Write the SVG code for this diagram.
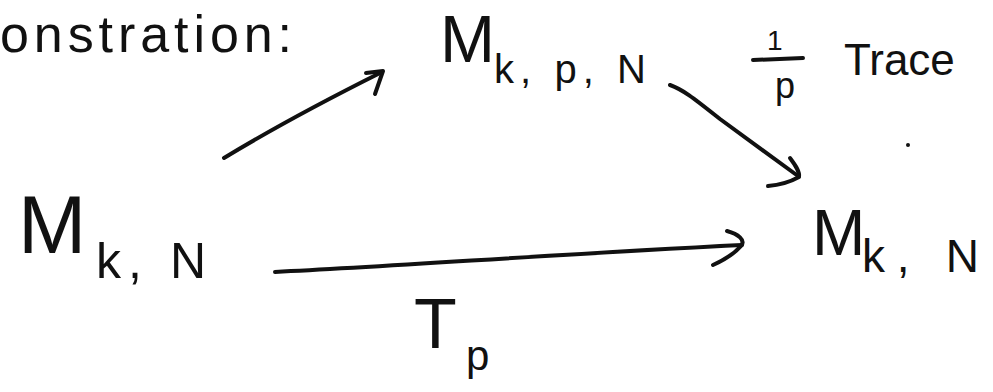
<svg xmlns="http://www.w3.org/2000/svg" width="993" height="392" viewBox="0 0 993 392">
<style>
  .t { font-family: "Liberation Sans", "DejaVu Sans", sans-serif; fill: #111; }
  .c { fill: none; stroke: #111; stroke-width: 4; stroke-linecap: round; stroke-linejoin: round; }
</style>
<rect width="993" height="392" fill="#ffffff"/>
<g id="title">
  <text class="t" x="0" y="52" font-size="52" textLength="292" lengthAdjust="spacing">onstration:</text>
</g>
<g id="node-top">
  <text class="t" x="440" y="62" font-size="66">M</text>
  <text class="t" x="494" y="83" font-size="40" textLength="152" lengthAdjust="spacing">k, p, N</text>
</g>
<g id="node-left">
  <text class="t" x="18" y="253" font-size="82">M</text>
  <text class="t" x="96" y="278" font-size="50" textLength="110" lengthAdjust="spacing">k, N</text>
</g>
<g id="node-right">
  <text class="t" x="812" y="255" font-size="64">M</text>
  <text class="t" x="862" y="272" font-size="46" textLength="117" lengthAdjust="spacing">k, N</text>
</g>
<g id="label-trace">
  <text class="t" x="767" y="50" font-size="28">1</text>
  <line class="c" x1="753" y1="60" x2="803" y2="58" stroke-width="3"/>
  <text class="t" x="775" y="98" font-size="36">p</text>
  <text class="t" x="844" y="75" font-size="44">Trace</text>
  <circle cx="908" cy="145" r="2" fill="#111"/>
</g>
<g id="label-tp">
  <text class="t" x="414" y="348" font-size="70">T</text>
  <text class="t" x="466" y="370" font-size="42">p</text>
</g>
<g id="connectors">
  <path class="c" d="M224,158 C280,124 330,98 382,72"/>
  <path class="c" d="M366,73 L383,71 L375,94"/>
  <path class="c" d="M670,85 C684,90 696,100 720,119 L798,176"/>
  <path class="c" d="M790,158 C796,166 800,172 799,177 C790,182 780,185 768,186"/>
  <path class="c" d="M275,272 C400,266 560,254 742,245"/>
  <path class="c" d="M727,231 C738,234 746,240 741,246 C734,254 724,260 713,265"/>
</g>
</svg>
